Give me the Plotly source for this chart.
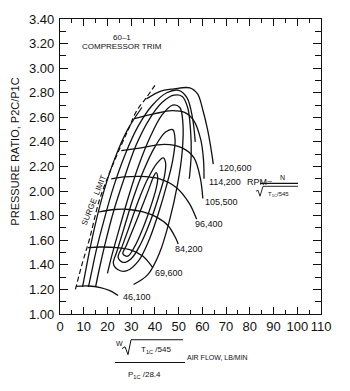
import plotly.graph_objects as go

# ---------------- data ----------------
x_ticks = [0, 10, 20, 30, 40, 50, 60, 70, 80, 90, 100, 110]
y_ticks = [1.00, 1.20, 1.40, 1.60, 1.80, 2.00, 2.20, 2.40, 2.60, 2.80, 3.00, 3.20, 3.40]

surge_x = [6.5, 9.5, 12.3, 16.5, 20.5, 24.8, 29.0, 32.2, 36.4, 40.0]
surge_y = [1.20, 1.42, 1.60, 1.92, 2.13, 2.33, 2.51, 2.65, 2.76, 2.86]

speed_names = ["46,100", "69,600", "84,200", "96,400", "105,500", "114,200", "120,600"]
speed_x = [
    [6.8, 12.0, 17.0, 21.0, 24.5],
    [11.8, 17.0, 24.0, 30.0, 35.0, 39.0],
    [16.5, 23.0, 29.2, 35.0, 40.5, 45.5, 48.7, 49.8],
    [21.6, 27.0, 33.5, 42.0, 49.0, 54.5, 57.6],
    [25.8, 33.5, 44.0, 51.7, 56.5, 59.2, 60.2],
    [31.4, 40.0, 47.0, 52.5, 56.5, 59.3, 60.5, 60.7],
    [36.4, 42.0, 47.5, 54.7, 58.0, 60.2, 62.2, 63.6, 64.6],
]
speed_y = [
    [1.225, 1.228, 1.215, 1.19, 1.15],
    [1.54, 1.545, 1.54, 1.52, 1.47, 1.38],
    [1.83, 1.85, 1.85, 1.83, 1.79, 1.72, 1.62, 1.57],
    [2.10, 2.115, 2.12, 2.10, 2.03, 1.90, 1.77],
    [2.33, 2.35, 2.38, 2.35, 2.27, 2.10, 1.94],
    [2.59, 2.63, 2.655, 2.64, 2.57, 2.42, 2.25, 2.10],
    [2.75, 2.81, 2.83, 2.84, 2.79, 2.66, 2.50, 2.35, 2.22],
]
label_x = [25.8, 39.3, 47.5, 55.9, 60.2, 61.9, 66.1]
label_y = [1.135, 1.33, 1.525, 1.73, 1.91, 2.07, 2.19]

eff_x = [
    [26.5, 28.0, 31.0, 34.5, 37.5, 39.5, 40.5, 41.2, 40.5, 38.0, 35.0, 31.5, 28.5, 26.5],
    [24.5, 26.0, 29.0, 33.0, 37.0, 41.0, 43.5, 44.5, 44.0, 41.5, 38.0, 34.0, 30.0, 26.5, 24.5],
    [22.5, 24.0, 27.0, 31.0, 35.5, 40.0, 44.5, 47.5, 48.5, 47.5, 45.0, 41.5, 37.5, 33.0, 28.0, 24.5, 22.5],
    [20.0, 21.5, 24.5, 28.5, 33.0, 38.0, 43.0, 47.5, 50.5, 51.8, 51.5, 49.5, 46.0, 42.0, 37.0, 31.0],
    [15.0, 16.5, 19.0, 22.5, 27.0, 32.0, 37.5, 43.0, 48.0, 51.5, 53.8, 55.0, 55.3, 54.5],
    [12.0, 13.2, 15.3, 18.5, 22.5, 27.5, 33.0, 39.0, 45.0, 50.0, 53.5, 55.8, 57.0],
    [9.5, 10.5, 12.3, 15.0, 18.5, 23.0, 28.5, 34.5],
]
eff_y = [
    [1.49, 1.56, 1.70, 1.87, 2.02, 2.12, 2.15, 2.11, 2.02, 1.86, 1.70, 1.55, 1.47, 1.49],
    [1.46, 1.54, 1.70, 1.92, 2.10, 2.23, 2.27, 2.23, 2.12, 1.95, 1.75, 1.57, 1.45, 1.42, 1.46],
    [1.41, 1.51, 1.70, 1.95, 2.18, 2.36, 2.48, 2.50, 2.42, 2.25, 2.05, 1.82, 1.60, 1.43, 1.35, 1.36, 1.41],
    [1.33, 1.45, 1.66, 1.93, 2.20, 2.44, 2.62, 2.70, 2.68, 2.55, 2.32, 2.05, 1.75, 1.50, 1.32, 1.24],
    [1.22, 1.36, 1.57, 1.83, 2.10, 2.37, 2.58, 2.72, 2.78, 2.77, 2.68, 2.50, 2.30, 2.10],
    [1.22, 1.33, 1.52, 1.76, 2.03, 2.30, 2.53, 2.70, 2.80, 2.82, 2.76, 2.60, 2.40],
    [1.22, 1.32, 1.50, 1.74, 2.00, 2.26, 2.50, 2.68],
]

# ---------------- figure ----------------
INK = "#111111"
FONT = "Liberation Sans, Arial, sans-serif"
LINE = dict(color=INK, width=1.3)
fig = go.Figure()

for ex, ey in zip(eff_x, eff_y):
    fig.add_trace(go.Scatter(x=ex, y=ey, mode="lines", line=dict(LINE, shape="spline", smoothing=1.0),
                             hoverinfo="skip", showlegend=False))
for sx, sy in zip(speed_x, speed_y):
    fig.add_trace(go.Scatter(x=sx, y=sy, mode="lines", line=dict(LINE, shape="spline", smoothing=0.9),
                             hoverinfo="skip", showlegend=False))
fig.add_trace(go.Scatter(x=surge_x, y=surge_y, mode="lines",
                         line=dict(color=INK, width=1.2, dash="5px,3px", shape="spline"),
                         hoverinfo="skip", showlegend=False))

LBL = dict(family=FONT, size=9, color=INK)
for name, lx, ly in zip(speed_names, label_x, label_y):
    fig.add_annotation(x=lx, y=ly, text=name, showarrow=False, xanchor="left", yanchor="middle",
                       font=LBL, xref="x", yref="y")

fig.add_annotation(x=26, y=3.25, text="60\u20131", showarrow=False, xanchor="center",
                   font=dict(LBL, size=8), xref="x", yref="y")
fig.add_annotation(x=26, y=3.18, text="COMPRESSOR TRIM", showarrow=False, xanchor="center",
                   font=dict(LBL, size=8), xref="x", yref="y")
fig.add_annotation(x=14.4, y=1.92, text="SURGE  LIMIT", showarrow=False, textangle=-68,
                   xanchor="center", yanchor="middle", font=dict(LBL, size=8), xref="x", yref="y")

# y-axis title
fig.add_annotation(x=(15 - 60) / 261, y=(314 - 150) / 298, xref="paper", yref="paper",
                   xanchor="center", yanchor="middle",
                   text="PRESSURE RATIO, P2C/P1C", textangle=-90, showarrow=False,
                   font=dict(family=FONT, size=11, color=INK))


def px(xp, yp):
    return (xp - 60) / 261, (314 - yp) / 298


def ptext(xp, yp, t, size, anchor="center"):
    ax, ay = px(xp, yp)
    fig.add_annotation(x=ax, y=ay, xref="paper", yref="paper", text=t, showarrow=False,
                       xanchor=anchor, yanchor="middle",
                       font=dict(family=FONT, size=size, color=INK))


def pline(x0, y0, x1, y1, w=1.1):
    a0, b0 = px(x0, y0)
    a1, b1 = px(x1, y1)
    fig.add_shape(type="line", xref="paper", yref="paper", x0=a0, y0=b0, x1=a1, y1=b1,
                  line=dict(color=INK, width=w))


# x-axis formula title
ptext(119, 344, "W", 7)
pline(122, 349, 125, 347, 1.0)
pline(125, 347, 128, 355, 1.0)
pline(128, 355, 131, 340, 1.0)
pline(131, 340, 183, 340, 1.0)
ptext(139, 350, "T<sub>1C</sub> /545", 8, "left")
pline(115, 363, 185, 363)
ptext(126, 376, "P<sub>1C</sub> /28.4", 8, "left")
ptext(185, 358, "AIR FLOW, LB/MIN", 7, "left")

# RPM formula
ptext(245, 181, "RPM=", 9, "left")
ptext(282, 176, "N", 7)
pline(260, 182, 298, 182)
pline(256, 190, 258, 189, 0.9)
pline(258, 189, 260, 195, 0.9)
pline(260, 195, 263, 185, 0.9)
pline(263, 185, 298, 185, 0.9)
ptext(266, 193, "T<sub>1C</sub>/545", 6, "left")

AX = dict(showline=True, linecolor=INK, linewidth=1.3, mirror="ticks", ticks="inside",
          tickcolor=INK, showgrid=False, zeroline=False,
          tickfont=dict(family=FONT, size=13, color=INK))

fig.update_layout(
    width=350, height=391, margin=dict(l=60, r=29, t=16, b=77),
    paper_bgcolor="white", plot_bgcolor="white", showlegend=False,
    xaxis=dict(AX, range=[0, 110], tickvals=x_ticks, ticklen=7, tickwidth=1.1,
               minor=dict(dtick=5, ticklen=4, ticks="inside", tickcolor=INK, tickwidth=1.1)),
    yaxis=dict(AX, range=[1.0, 3.4], tickvals=y_ticks, ticktext=[f"{v:.2f}" for v in y_ticks],
               ticklen=8, tickwidth=1.1, ticklabelstandoff=2,
               minor=dict(dtick=0.1, tick0=1.0, ticklen=6, ticks="inside", tickcolor=INK, tickwidth=1.1)),
)

fig.write_html("out.html")
